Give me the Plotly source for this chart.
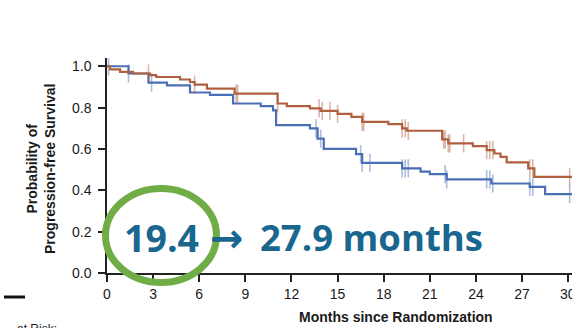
import numpy as np
import plotly.graph_objects as go

# Kaplan-Meier step points (months, survival probability)
control_t = [0, 1.4, 2.7, 3.9, 5.4, 6.7, 8.2, 10.0, 10.8, 11.0, 13.2, 13.7, 14.1,
             16.2, 16.6, 19.2, 20.4, 21.0, 22.1, 25.0, 27.5, 28.5, 30.3]
control_s = [1.0, 0.965, 0.921, 0.908, 0.873, 0.862, 0.82, 0.807, 0.787, 0.715, 0.70,
             0.65, 0.60, 0.575, 0.533, 0.506, 0.49, 0.478, 0.453, 0.433, 0.417, 0.382, 0.382]

treat_t = [0, 0.2, 0.85, 1.7, 2.8, 3.2, 4.75, 5.4, 5.7, 6.5, 8.3, 11.1, 11.7, 13.2,
           13.9, 15.0, 15.9, 16.6, 18.3, 19.2, 19.5, 21.8, 22.2, 23.8, 24.7, 25.2,
           25.6, 26.0, 27.4, 27.8, 30.3]
treat_s = [1.0, 0.985, 0.973, 0.965, 0.957, 0.948, 0.936, 0.924, 0.911, 0.892, 0.868,
           0.82, 0.807, 0.796, 0.784, 0.77, 0.755, 0.731, 0.72, 0.70, 0.688, 0.646,
           0.627, 0.614, 0.594, 0.578, 0.562, 0.535, 0.506, 0.465, 0.465]

# Censoring times
control_cens = [0.1, 1.4, 2.9, 13.6, 13.9, 16.5, 16.6, 17.1, 19.2, 19.4, 19.6, 22.0,
                22.1, 24.7, 24.9, 25.1, 27.5, 27.7, 30.1]
treat_cens = [2.7, 5.7, 8.4, 8.5, 11.1, 13.8, 14.0, 14.5, 15.0, 16.6, 16.7, 19.2, 19.4,
              19.6, 21.9, 22.0, 22.2, 22.3, 23.2, 24.7, 24.9, 25.1, 27.5, 27.7, 30.1]

# Median PFS before -> after
median_before = "19.4"
median_after = "27.9 months"

x_ticks = [0, 3, 6, 9, 12, 15, 18, 21, 24, 27, 30]
y_ticks = [0.0, 0.2, 0.4, 0.6, 0.8, 1.0]

BLUE = "#4a6fb5"
BROWN = "#b0603f"
TEXT_BLUE = "#19668f"
GREEN = "#70ad47"

W, H = 572, 328
ML, MR, MT, MB = 107, 0, 58, 55
PW, PH = W - ML - MR, H - MT - MB
X_MAX = 30.25


def px(x):
    return (x - ML) / PW


def py(y):
    return (H - MB - y) / PH


def surv_at(times, t_steps, s_steps):
    idx = np.searchsorted(t_steps, times, side="right") - 1
    return np.asarray(s_steps)[idx]


fig = go.Figure()
for t, s, cens, col in [(control_t, control_s, control_cens, BLUE),
                        (treat_t, treat_s, treat_cens, BROWN)]:
    fig.add_trace(go.Scatter(x=t, y=s, mode="lines", line=dict(color=col, width=2.2, shape="hv"),
                             showlegend=False, hoverinfo="skip"))
    fig.add_trace(go.Scatter(x=cens, y=surv_at(cens, t, s), mode="markers",
                             marker=dict(symbol="line-ns", size=13, opacity=0.45,
                                         line=dict(color=col, width=1.6)),
                             showlegend=False, hoverinfo="skip"))

tick_font = dict(family="Liberation Sans, Arial", size=14, color="#1a1a1a")
fig.update_xaxes(range=[0, X_MAX], tickvals=x_ticks, ticktext=[str(v) for v in x_ticks],
                 ticks="outside", ticklen=7, tickwidth=1.5, tickcolor="#222",
                 showline=True, linecolor="#222", linewidth=1.5, showgrid=False,
                 zeroline=False, tickfont=tick_font)
fig.update_yaxes(range=[0, 1.04], tickvals=y_ticks, ticktext=[f"{v:.1f}" for v in y_ticks],
                 ticks="outside", ticklen=7, tickwidth=1.5, tickcolor="#222",
                 showline=True, linecolor="#222", linewidth=1.5, showgrid=False,
                 zeroline=False, tickfont=tick_font, ticklabelstandoff=4)

bold = dict(family="Liberation Sans, Arial", size=14, color="#1a1a1a")
big = dict(family="Open Sans", size=37.5, weight=700, color=TEXT_BLUE)
annotations = [
    dict(text="<b>Probability of<br>Progression-free Survival</b>", textangle=-90,
         x=px(41), y=py(169), font=bold),
    dict(text="<b>Months since Randomization</b>", x=px(396), y=py(317), font=bold),
    dict(text="at Risk:", x=px(15), y=py(320), xanchor="left", yanchor="top",
         font=dict(family="Liberation Sans, Arial", size=12, color="#1a1a1a")),
    dict(text=median_before, x=px(122), y=py(237), xanchor="left", font=big),
    dict(text="\u2192", x=px(227), y=py(238),
         font=dict(family="DejaVu Sans", size=40, weight="bold", color=TEXT_BLUE)),
    dict(text=median_after, x=px(258), y=py(237), xanchor="left",
         font={**big, "size": 36.5}),
]
for a in annotations:
    a.setdefault("xanchor", "center")
    a.setdefault("yanchor", "middle")
    a.update(xref="paper", yref="paper", showarrow=False)

# last tick label sits on the right edge of the page
annotations.append(dict(text=str(x_ticks[-1]), x=x_ticks[-1] / X_MAX, y=py(294),
                        xref="paper", yref="paper", xanchor="center", yanchor="middle",
                        showarrow=False, font=tick_font))

shapes = [
    dict(type="circle", xref="paper", yref="paper", x0=px(105.5), x1=px(216.5),
         y0=py(282.5), y1=py(188.5), line=dict(color=GREEN, width=7), layer="above"),
    dict(type="line", xref="paper", yref="paper", x0=px(4), x1=px(25), y0=py(297), y1=py(297),
         line=dict(color="#111", width=3)),
]

fig.update_layout(width=W, height=H, margin=dict(l=ML, r=MR, t=MT, b=MB),
                  paper_bgcolor="white", plot_bgcolor="white",
                  annotations=annotations, shapes=shapes)
fig.write_html("out.html")
